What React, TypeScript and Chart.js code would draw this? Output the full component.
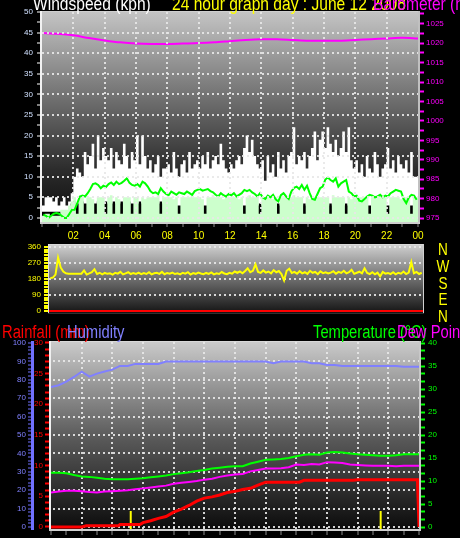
import React, { useEffect, useRef } from 'react';
import { Chart, registerables } from 'chart.js';

Chart.register(...registerables);

// ---------------- data ----------------
const HOUR_LABELS = ['02', '04', '06', '08', '10', '12', '14', '16', '18', '20', '22', '00'];
const DIRECTION_LETTERS = ['N', 'W', 'S', 'E', 'N'];

// 10-minute slots, 144 per day
const GUST_KPH = [
  3, 3, 5, 5, 5, 4, 5, 3, 4, 5, 3, 4,
  6, 10, 12, 11, 10, 16, 13, 15, 18, 12, 20, 14,
  17, 15, 14, 17, 12, 16, 14, 13, 18, 15, 12, 16,
  14, 20, 13, 20, 15, 12, 14, 11, 13, 15, 10, 12,
  12, 13, 11, 16, 12, 10, 13, 14, 11, 16, 12, 13,
  14, 12, 15, 13, 16, 12, 14, 15, 13, 18, 14, 12,
  11, 13, 12, 14, 15, 13, 17, 20, 16, 19, 15, 13,
  12, 14, 9, 15, 11, 13, 10, 16, 12, 14, 11, 15,
  16, 22, 13, 15, 14, 16, 12, 15, 17, 21, 14, 19,
  21, 17, 22, 18, 16, 19, 15, 17, 21, 16, 22, 14,
  12, 14, 11, 13, 10, 15, 12, 11, 16, 13, 10, 12,
  13, 17, 12, 14, 11, 15, 13, 12, 14, 11, 16, 10,
];
const CALM_KPH = [
  1.5, 1.5, 1.5, 1.5, 1.5, 1.5, 1.5, 1.5, 1.5, 1.5, 1.5, 1.5,
  3.5, 4, 3.5, 3.5, 4, 3.5, 3.5, 4, 3.5, 3.5, 4, 3.5,
  3.5, 4, 3.5, 3.5, 4, 3.5, 3.5, 4, 3.5, 3.5, 4, 3.5,
  3.5, 3.5, 4, 3.5, 3.5, 3.5, 4, 3.5, 3.5, 3.5, 4, 3.5,
  3, 3, 3, 3, 3, 3, 3, 3, 3, 3, 3, 3,
  3, 3, 3, 3, 3, 3, 3, 3, 3, 3, 3, 3,
  3, 3, 3, 3, 3, 3, 3, 3, 3, 3, 3, 3,
  3.5, 3, 3, 3, 3, 3, 3, 3.5, 3, 3, 3, 3,
  3, 3, 3, 3, 3, 3.5, 3, 3, 3, 3, 3, 3,
  3, 3, 3, 3.5, 3, 3, 3, 3, 3, 3.5, 3, 3,
  3, 3, 3, 3, 3, 3, 3, 3, 3, 3, 3, 3,
  3, 3, 3, 3, 3, 3, 3, 3, 3, 3, 3, 3,
];
const AVG_BAND_KPH = [
  1, 0.5, 1, 1, 0.5, 0.5, 0.5, 0.5, 2, 2, 2, 3,
  4, 5, 1, 5, 5.5, 1, 5, 5, 4.5, 1, 5, 5,
  5, 1, 5, 5.5, 1, 5, 4.5, 1, 5, 5, 5, 1,
  5, 5, 1, 5, 4.5, 5, 5, 5, 5, 5.5, 1, 5,
  5, 5, 5, 4.5, 5, 1, 5, 5, 5, 5, 5.5, 5,
  5, 5, 4.5, 1, 5, 5, 5.5, 5, 5, 5, 4.5, 5,
  5, 5, 5, 5, 4.5, 5, 1, 5, 5.5, 5, 5, 5,
  1, 5, 5, 5, 5, 4.5, 5, 1, 5, 5, 5, 5,
  5, 5.5, 5, 5, 5, 1, 5, 4.5, 5, 5, 5, 5,
  5, 5, 5, 1, 5.5, 5, 5, 5, 5, 1, 5, 4.5,
  5, 5, 5, 5, 4.5, 5, 1, 5, 5, 5, 5, 5,
  5, 1, 5, 5, 5, 5, 4.5, 5, 5, 5, 1, 5,
];
const AVG_LINE_KPH = [
  0.8, 0.5, 0, 0.5, 1, 1.2, 1, 0.5, 0, 0, 1, 2,
  2, 3.5, 5.2, 5.4, 5.2, 6, 7, 8.2, 8.4, 8, 7.2, 7.8,
  7.5, 8.2, 8.6, 8, 8.8, 8.2, 8.5, 9, 9.6, 8.5, 8, 7.8,
  8.2, 7.6, 8.8, 8.4, 7.6, 6.5, 6, 6.2, 5.8, 7.2, 6.4, 5.8,
  5.5, 6.4, 6, 5.6, 6.2, 6, 5.8, 6.4, 6, 5.6, 6.5, 6.8,
  7, 6.6, 6.8, 7, 6.5, 6.2, 5.6, 5.2, 6, 5.5, 5.2, 5.8,
  5.5, 6, 5.2, 5.6, 6, 6.8, 6.5, 6.8, 6.2, 5.8, 5.2, 6,
  5, 4.6, 5.4, 5, 5.6, 4.5, 4, 5.5, 6, 5.2, 4.6, 6.4,
  7.3, 7.6, 7, 8, 6.8, 7.8, 6, 4.6, 4.4, 5.8, 7.2, 7.6,
  9.3, 9.8, 9.2, 8.8, 9.6, 7.6, 8.4, 8.8, 9.2, 6.4, 6, 5.2,
  5.4, 4.2, 4, 4.6, 5.2, 5.6, 5.4, 5, 5.2, 5.6, 5, 5.4,
  5.2, 6, 6.4, 6.8, 6.6, 6.4, 4.6, 3.6, 5, 5.6, 5.4, 4.4,
];
// hourly, 0..24
const PRESSURE_HPA = [
  1022.6, 1022.4, 1022.0, 1021.3, 1020.7, 1020.2, 1019.9, 1019.8, 1019.8, 1019.9,
  1020.0, 1020.2, 1020.5, 1020.8, 1021.0, 1021.0, 1020.8, 1020.6, 1020.6, 1020.6,
  1020.8, 1021.0, 1021.2, 1021.4, 1021.2,
];
const WIND_DIR_DEG = [
  185, 188, 205, 300, 245, 222, 212, 210, 210, 210, 210, 210,
  210, 228, 205, 212, 218, 235, 208, 215, 206, 214, 209, 212,
  205, 215, 210, 220, 206, 212, 218, 208, 214, 209, 216, 207,
  213, 208, 218, 206, 212, 215, 209, 220, 207, 214, 210, 216,
  208, 212, 206, 215, 210, 218, 205, 213, 209, 216, 211, 207,
  214, 209, 217, 206, 212, 208, 219, 211, 207, 215, 210, 222,
  215, 222, 212, 225, 240, 218, 226, 262, 220, 214, 228, 216,
  222, 212, 230, 218, 225, 208, 172, 226, 238, 214, 220, 210,
  224, 212, 218, 209, 226, 215, 220, 207, 223, 213, 218, 211,
  216, 224, 210, 220, 214, 226, 212, 218, 232, 209, 215, 221,
  212, 240, 214, 208, 218, 206, 216, 195, 220, 210, 214, 208,
  218, 206, 215, 210, 222, 208, 216, 275, 212, 220, 208, 215,
];
const DIR_BASE_HOURS = [0, 24];
const DIR_BASE_DEG = [0, 0];

// half-hourly, 0..24
const TEMP_C = [
  11.8, 11.8, 11.7, 11.3, 11.0, 10.9, 10.7, 10.5, 10.4, 10.4,
  10.4, 10.5, 10.6, 10.8, 11.0, 11.2, 11.5, 11.7, 11.9, 12.2,
  12.4, 12.7, 12.9, 13.1, 13.2, 13.2, 13.8, 14.2, 14.6, 14.7,
  14.8, 15.0, 15.4, 15.7, 15.8, 15.7, 16.2, 16.3, 16.2, 16.0,
  15.8, 15.7, 15.6, 15.5, 15.5, 15.6, 15.8, 15.8, 15.8,
];
const DEW_C = [
  7.5, 7.7, 7.9, 7.9, 7.8, 7.6, 7.5, 7.7, 7.8, 7.9,
  8.0, 8.2, 8.4, 8.6, 8.8, 9.0, 9.4, 9.6, 9.8, 10.0,
  10.3, 10.5, 10.9, 11.2, 11.4, 11.5, 12.1, 12.4, 12.7, 12.7,
  12.8, 13.0, 13.6, 13.5, 13.7, 13.6, 14.1, 14.0, 13.9, 13.6,
  13.5, 13.4, 13.3, 13.3, 13.3, 13.2, 13.3, 13.3, 13.3,
];
const HUMIDITY_PCT = [
  76, 77, 79, 81.5, 84.4, 81.7, 83.3, 84.5, 85.5, 87.5,
  87.5, 88.6, 88.6, 88.6, 88.6, 89.9, 89.9, 89.9, 89.9, 89.9,
  89.9, 89.9, 89.9, 89.9, 89.9, 89.9, 89.9, 89.9, 89.9, 89.0,
  89.9, 89.9, 89.9, 89.9, 89.0, 89.0, 88.0, 88.0, 87.5, 87.5,
  87.5, 87.5, 87.5, 87.5, 87.5, 87.5, 87.0, 87.0, 87.0,
];
const RAIN_HOURS = [0, 2, 2.3, 4.4, 4.5, 5.8, 6, 6.5, 7, 7.5, 8, 8.5, 9, 9.5, 10, 10.5, 11, 11.5, 12, 12.5, 13, 13.5, 14, 16.2, 16.5, 19.7, 20, 23.9, 24];
const RAIN_MM = [0, 0, 0.2, 0.2, 0.4, 0.4, 0.7, 1.0, 1.4, 1.7, 2.4, 2.9, 3.5, 4.2, 4.7, 4.9, 5.2, 5.6, 5.8, 6.1, 6.3, 6.8, 7.3, 7.3, 7.6, 7.6, 7.7, 7.7, 0];
const RAIN_RATE_HOURS = [5.2, 21.5];
const RAIN_RATE_MM = [2.6, 2.6];

// ---------------- helpers ----------------
const FONT = '"Liberation Sans", Arial, sans-serif';
const GRID = 'rgba(232,232,232,0.9)';
const NONE = 'rgba(0,0,0,0)';

const stepSeries = (vals: number[]) => {
  const pts = vals.map((v, i) => ({ x: i / 6, y: v }));
  pts.push({ x: 24, y: vals[vals.length - 1] });
  return pts;
};
const midSeries = (vals: number[]) => vals.map((v, i) => ({ x: (i + 0.5) / 6, y: v }));
const halfHourSeries = (vals: number[]) => vals.map((v, i) => ({ x: i / 2, y: v }));
const pairs = (xs: number[], ys: number[]) => xs.map((x, i) => ({ x, y: ys[i] }));
const rateSeries = (xs: number[], ys: number[]) => {
  const out: any[] = [];
  xs.forEach((x, i) => {
    out.push({ x, y: -1 }, { x, y: ys[i] }, { x, y: null });
  });
  return out;
};

const tickVal = (c: any) => (c && c.tick ? c.tick.value : NaN);
const isMult = (v: number, m: number) => Math.abs(v / m - Math.round(v / m)) < 1e-6;
const hourLabel = (v: any) => {
  const n = Number(v);
  if (n > 0 && n <= 24 && isMult(n, 2)) return HOUR_LABELS[Math.round(n / 2) - 1];
  return '';
};
const hourGrid = (c: any) => {
  const v = tickVal(c);
  return v > 0 && v < 24 && isMult(v, 2) ? GRID : NONE;
};
const multLabel = (m: number) => (v: any) => (isMult(Number(v), m) ? String(Math.round(Number(v))) : '');

function fixWidth(w: number) {
  return (s: any) => {
    s.width = w;
    s.paddingTop = 0;
    s.paddingBottom = 0;
  };
}
function fixHeight(h: number) {
  return (s: any) => {
    s.height = h;
    s.paddingLeft = 0;
    s.paddingRight = 0;
  };
}

function drawText(ctx: CanvasRenderingContext2D, s: string, x: number, y: number, color: string, size: number, sx = 1, align: CanvasTextAlign = 'left') {
  ctx.save();
  ctx.translate(x, y);
  ctx.scale(sx, 1);
  ctx.font = `${size}px ${FONT}`;
  ctx.textAlign = align;
  ctx.textBaseline = 'alphabetic';
  ctx.fillStyle = color;
  ctx.fillText(s, 0, 0);
  ctx.restore();
}

function bgPlugin(stops: [number, string][]) {
  return {
    id: 'bgGradient',
    beforeDraw(chart: any) {
      const { ctx, chartArea: a } = chart;
      const g = ctx.createLinearGradient(0, a.top, 0, a.bottom);
      stops.forEach(([o, c]) => g.addColorStop(o, c));
      ctx.save();
      ctx.fillStyle = g;
      ctx.fillRect(a.left, a.top, a.right - a.left, a.bottom - a.top);
      ctx.restore();
    },
  };
}

function framePlugin(o: { left: string; lw: number; bottom: string; bw: number; right: string; rw: number; top: string }) {
  return {
    id: 'frame',
    afterDraw(chart: any) {
      const { ctx, chartArea: a } = chart;
      ctx.save();
      ctx.fillStyle = o.top;
      ctx.fillRect(a.left - o.lw, a.top - 1, a.right - a.left + o.lw + o.rw, 1);
      ctx.fillStyle = o.right;
      ctx.fillRect(a.right, a.top - 1, o.rw, a.bottom - a.top + 1 + o.bw);
      ctx.fillStyle = o.left;
      ctx.fillRect(a.left - o.lw, a.top - 1, o.lw, a.bottom - a.top + 1 + o.bw);
      ctx.fillStyle = o.bottom;
      ctx.fillRect(a.left - o.lw, a.bottom, a.right - a.left + o.lw + o.rw, o.bw);
      ctx.restore();
    },
  };
}

const base = {
  responsive: false,
  animation: false as const,
  devicePixelRatio: 1,
  events: [] as any[],
  plugins: { legend: { display: false }, tooltip: { enabled: false } },
};

const lineDs = (extra: any) => ({ pointRadius: 0, fill: false, tension: 0, ...extra });

// ---------------- charts ----------------
function makeWind(canvas: HTMLCanvasElement) {
  return new Chart(canvas, {
    type: 'line',
    data: {
      datasets: [
        lineDs({ label: 'Gust', data: stepSeries(GUST_KPH), stepped: 'after', fill: 'start', backgroundColor: '#ffffff', borderColor: '#ffffff', borderWidth: 0, yAxisID: 'y', order: 5 }),
        lineDs({ label: 'Calm', data: stepSeries(CALM_KPH), stepped: 'after', fill: 'start', backgroundColor: '#000000', borderColor: '#000000', borderWidth: 0, yAxisID: 'y', order: 4 }),
        lineDs({ label: 'Wind', data: stepSeries(AVG_BAND_KPH), stepped: 'after', fill: 'start', backgroundColor: '#ccffcc', borderColor: '#ccffcc', borderWidth: 0, yAxisID: 'y', order: 3 }),
        lineDs({ label: 'Average', data: midSeries(AVG_LINE_KPH), borderColor: '#00ff00', borderWidth: 2, yAxisID: 'y', order: 2 }),
        lineDs({ label: 'Barometer', data: PRESSURE_HPA.map((v, i) => ({ x: i, y: v })), borderColor: '#ff00ff', borderWidth: 2, tension: 0.3, yAxisID: 'y1', order: 1 }),
      ],
    },
    options: {
      ...base,
      layout: { padding: { top: 12, left: 0, right: 0, bottom: 0 } },
      scales: {
        x: {
          type: 'linear', min: 0, max: 24, position: 'bottom', offset: false,
          afterFit: fixHeight(20),
          ticks: { stepSize: 1, autoSkip: false, includeBounds: false, maxRotation: 0, minRotation: 0, padding: 3, color: '#ffff00', font: { family: FONT, size: 10 }, callback: hourLabel },
          grid: { color: hourGrid, lineWidth: 2, tickColor: '#8c8c8c', tickWidth: 1, tickLength: 5, z: 1 },
          border: { display: false, dash: [2, 3] },
        },
        y: {
          type: 'linear', position: 'left', min: -1, max: 50,
          afterFit: fixWidth(42),
          ticks: { stepSize: 2.5, autoSkip: false, includeBounds: false, padding: 4, color: '#d0e0ff', font: { family: FONT, size: 8 }, callback: multLabel(5) },
          grid: {
            color: (c: any) => { const v = tickVal(c); return v >= 0 && v < 50 && isMult(v, 5) ? GRID : NONE; },
            lineWidth: 2, tickColor: '#ffffff', tickWidth: 1, tickLength: 5, z: 1,
          },
          border: { display: false, dash: [2, 3] },
        },
        y1: {
          type: 'linear', position: 'right', min: 974, max: 1028,
          afterFit: fixWidth(42),
          ticks: { stepSize: 2.5, autoSkip: false, includeBounds: false, padding: 2, color: '#ff00ff', font: { family: FONT, size: 8 }, callback: multLabel(5) },
          grid: { drawOnChartArea: false, color: '#ff00ff', tickColor: '#ff00ff', tickWidth: 2, tickLength: 6 },
          border: { display: false },
        },
      },
    },
    plugins: [
      bgPlugin([[0, '#c4c4c4'], [0.45, '#686868'], [0.75, '#2c2c2c'], [1, '#0c0c0c']]),
      framePlugin({ left: '#f2f2f2', lw: 2, bottom: '#cfcfcf', bw: 2, right: '#c0c0c0', rw: 2, top: '#cfcfcf' }),
      {
        id: 'titles',
        afterDraw(chart: any) {
          const ctx = chart.ctx;
          drawText(ctx, 'Windspeed (kph)', 33, 10, '#ffffff', 19, 0.82);
          drawText(ctx, '24 hour graph day : June 12 2008', 172, 10, '#ffff00', 19, 0.82);
          drawText(ctx, 'Barometer (hPa)', 373, 10, '#ff00ff', 19, 0.82);
        },
      },
    ],
  } as any);
}

function makeDirection(canvas: HTMLCanvasElement) {
  return new Chart(canvas, {
    type: 'line',
    data: {
      datasets: [
        lineDs({ label: 'Zero', data: pairs(DIR_BASE_HOURS, DIR_BASE_DEG), borderColor: '#ff0000', borderWidth: 2, order: 2 }),
        lineDs({ label: 'Direction', data: midSeries(WIND_DIR_DEG), borderColor: '#ffff00', borderWidth: 2, order: 1 }),
      ],
    },
    options: {
      ...base,
      layout: { padding: { top: 7, left: 0, right: 37, bottom: 17 } },
      scales: {
        x: { type: 'linear', min: 0, max: 24, display: false, offset: false },
        y: {
          type: 'linear', position: 'left', min: -11, max: 371,
          afterFit: fixWidth(49),
          ticks: { stepSize: 15, autoSkip: false, includeBounds: false, padding: 3, color: '#ffff00', font: { family: FONT, size: 8 }, callback: multLabel(90) },
          grid: {
            color: (c: any) => { const v = tickVal(c); return v > 0 && isMult(v, 90) ? GRID : NONE; },
            lineWidth: 2, tickColor: '#ffff00', tickWidth: 2, tickLength: 5,
          },
          border: { display: false, dash: [2, 3] },
        },
      },
    },
    plugins: [
      bgPlugin([[0, '#cfcfcf'], [0.5, '#6e6e6e'], [1, '#141414']]),
      framePlugin({ left: '#e0e0e0', lw: 1, bottom: '#303030', bw: 1, right: '#d0d0d0', rw: 1, top: '#d8d8d8' }),
      {
        id: 'letters',
        afterDraw(chart: any) {
          const ctx = chart.ctx;
          const ys = [17, 34, 50.5, 67, 83.5];
          DIRECTION_LETTERS.forEach((l, i) => drawText(ctx, l, 443, ys[i], '#ffff00', 17, 0.8, 'center'));
        },
      },
    ],
  } as any);
}

function makeClimate(canvas: HTMLCanvasElement) {
  return new Chart(canvas, {
    type: 'line',
    data: {
      datasets: [
        lineDs({ label: 'Humidity', data: halfHourSeries(HUMIDITY_PCT), borderColor: '#8080ff', borderWidth: 2, yAxisID: 'hum', order: 5 }),
        lineDs({ label: 'Temperature', data: halfHourSeries(TEMP_C), borderColor: '#00ff00', borderWidth: 2, yAxisID: 'temp', order: 4 }),
        lineDs({ label: 'Dew Point', data: halfHourSeries(DEW_C), borderColor: '#ff00ff', borderWidth: 2, yAxisID: 'temp', order: 3 }),
        lineDs({ label: 'Rain rate', data: rateSeries(RAIN_RATE_HOURS, RAIN_RATE_MM), borderColor: '#ffff00', borderWidth: 2, spanGaps: false, yAxisID: 'rain', order: 2 }),
        lineDs({ label: 'Rainfall', data: pairs(RAIN_HOURS, RAIN_MM), borderColor: '#ff0000', borderWidth: 3, yAxisID: 'rain', order: 1 }),
      ],
    },
    options: {
      ...base,
      layout: { padding: { top: 27, left: 0, right: 0, bottom: 0 } },
      scales: {
        x: {
          type: 'linear', min: 0, max: 24, position: 'bottom', offset: false,
          afterFit: fixHeight(9),
          ticks: { stepSize: 1, autoSkip: false, includeBounds: false, maxRotation: 0, minRotation: 0, callback: () => '' },
          grid: { color: hourGrid, lineWidth: 2, tickColor: '#8c8c8c', tickWidth: 1, tickLength: 6 },
          border: { display: false, dash: [2, 3] },
        },
        hum: {
          type: 'linear', position: 'left', weight: 1, min: -1.1, max: 100.5,
          afterFit: fixWidth(32),
          ticks: { stepSize: 2, autoSkip: false, includeBounds: false, padding: 2, color: '#8080ff', font: { family: FONT, size: 8 }, callback: multLabel(10) },
          grid: {
            color: (c: any) => { const v = tickVal(c); return v >= 0 && v < 100 && isMult(v, 10) ? GRID : NONE; },
            lineWidth: 2, tickColor: '#7070ff', tickWidth: 1, tickLength: 4,
          },
          border: { display: true, color: '#7070ff', width: 3, dash: [2, 3] },
        },
        rain: {
          type: 'linear', position: 'left', weight: 0, min: -0.34, max: 30.16,
          afterFit: fixWidth(19),
          ticks: { stepSize: 1, autoSkip: false, includeBounds: false, padding: 2, color: '#ff0000', font: { family: FONT, size: 8 }, callback: multLabel(5) },
          grid: { drawOnChartArea: false, color: '#ff0000', tickColor: '#ff0000', tickWidth: 2, tickLength: 6 },
          border: { display: false },
        },
        temp: {
          type: 'linear', position: 'right', min: -0.43, max: 40.22,
          afterFit: fixWidth(41),
          ticks: { stepSize: 5 / 3, autoSkip: false, includeBounds: false, padding: 3, color: '#00ff00', font: { family: FONT, size: 8 }, callback: multLabel(5) },
          grid: { drawOnChartArea: false, color: '#00ff00', tickColor: '#00ff00', tickWidth: 2, tickLength: 6 },
          border: { display: false },
        },
      },
    },
    plugins: [
      bgPlugin([[0, '#cacaca'], [0.5, '#5c5c5c'], [1, '#0c0c0c']]),
      framePlugin({ left: '#f0f0f0', lw: 2, bottom: '#d0d0d0', bw: 2, right: '#c8c8c8', rw: 2, top: '#d8d8d8' }),
      {
        id: 'titles',
        afterDraw(chart: any) {
          const ctx = chart.ctx;
          drawText(ctx, 'Rainfall (mm)', 2, 22.5, '#ff0000', 18, 0.82);
          drawText(ctx, 'Humidity', 67, 22.5, '#8080ff', 18, 0.82);
          drawText(ctx, 'Temperature (°C)', 313, 22.5, '#00ff00', 18, 0.82);
          drawText(ctx, 'Dew Point', 397, 22.5, '#ff00ff', 18, 0.82);
        },
      },
    ],
  } as any);
}

export default function App() {
  const windRef = useRef<HTMLCanvasElement>(null);
  const dirRef = useRef<HTMLCanvasElement>(null);
  const climRef = useRef<HTMLCanvasElement>(null);

  useEffect(() => {
    const charts = [
      makeWind(windRef.current as HTMLCanvasElement),
      makeDirection(dirRef.current as HTMLCanvasElement),
      makeClimate(climRef.current as HTMLCanvasElement),
    ];
    return () => charts.forEach((c) => c.destroy());
  }, []);

  return (
    <div style={{ position: 'absolute', left: 0, top: 0, width: 460, height: 538, background: '#000', overflow: 'hidden' }}>
      <canvas ref={windRef} width={460} height={242} style={{ position: 'absolute', left: 0, top: 0 }} />
      <canvas ref={dirRef} width={460} height={92} style={{ position: 'absolute', left: 0, top: 238 }} />
      <canvas ref={climRef} width={460} height={223} style={{ position: 'absolute', left: 0, top: 315 }} />
    </div>
  );
}
